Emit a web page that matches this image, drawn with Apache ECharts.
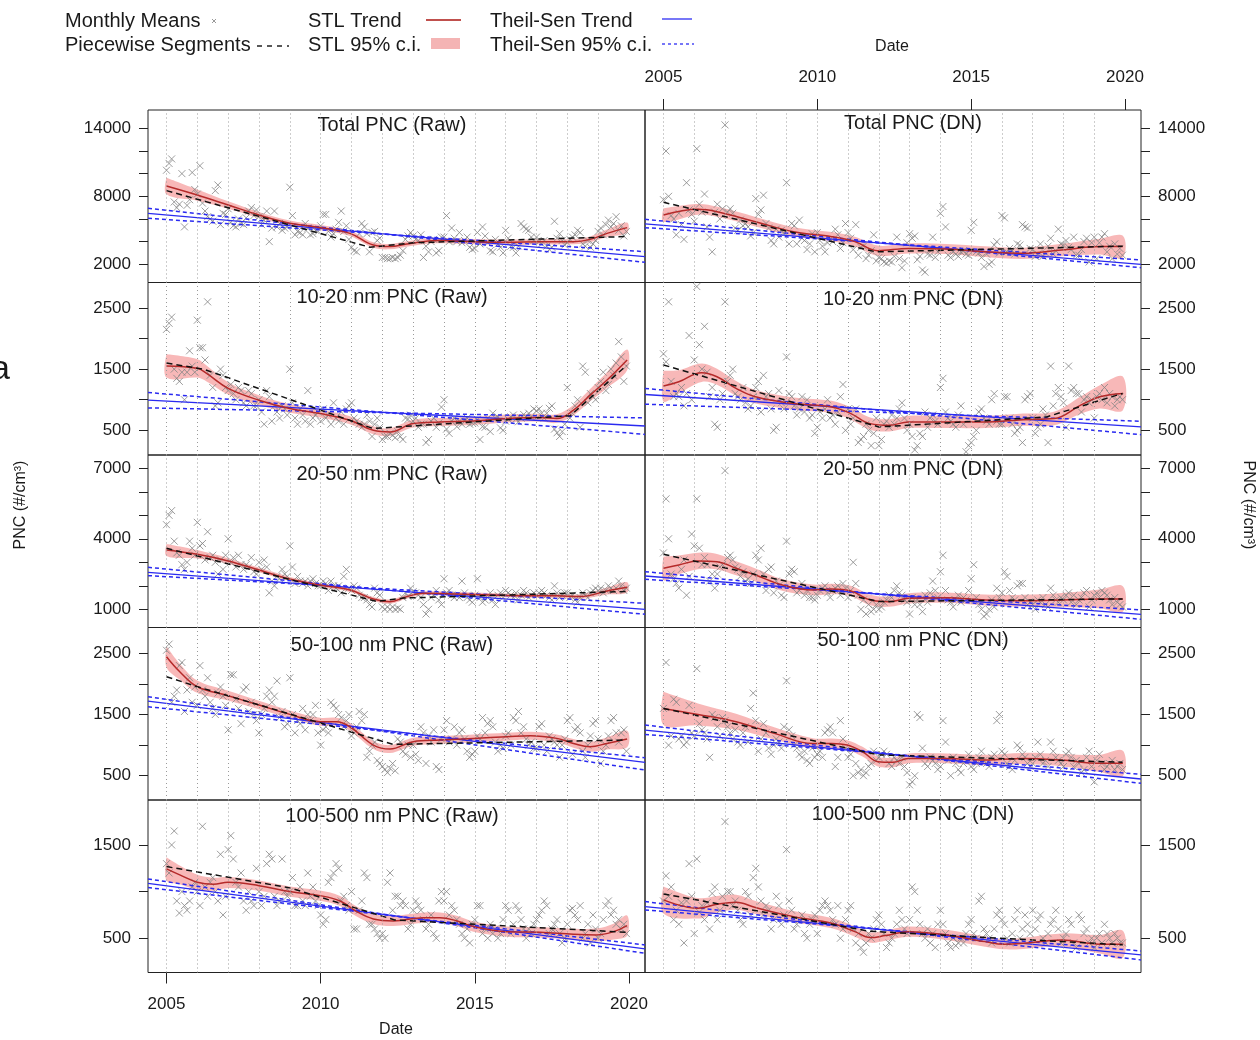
<!DOCTYPE html>
<html>
<head>
<meta charset="utf-8">
<script src="https://cdn.jsdelivr.net/npm/echarts@6/dist/echarts.min.js"></script>
<style>
html, body { margin: 0; background: #fff; }
#chart { width: 1260px; height: 1040px; }
</style>
</head>
<body>
<div id="chart"></div>
<script>
// years with a dotted guide line, date ticks, x range
var years = [2005, 2006, 2007, 2008, 2009, 2010, 2011, 2012, 2013, 2014, 2015, 2016, 2017, 2018, 2019];
var dateTicks = [2005, 2010, 2015, 2020];
var xRange = [2004.4, 2020.52];

// y scale of each row (shared by Raw and DN)
var rowRanges = [[394, 15615], [97, 2916], [226, 7566], [103, 2922], [133, 1982]];
var rowTicks = [
    [2000, 4000, 6000, 8000, 10000, 12000, 14000],
    [500, 1000, 1500, 2000, 2500],
    [1000, 2000, 3000, 4000, 5000, 6000, 7000],
    [500, 1000, 1500, 2000, 2500],
    [500, 1000, 1500]
];
var rowLabels = [[2000, 8000, 14000], [500, 1500, 2500], [1000, 4000, 7000], [500, 1500, 2500], [500, 1500]];
var titles = [
    ['Total PNC (Raw)', 'Total PNC (DN)'],
    ['10-20 nm PNC (Raw)', '10-20 nm PNC (DN)'],
    ['20-50 nm PNC (Raw)', '20-50 nm PNC (DN)'],
    ['50-100 nm PNC (Raw)', '50-100 nm PNC (DN)'],
    ['100-500 nm PNC (Raw)', '100-500 nm PNC (DN)']
];

// monthly means, Jan 2005 .. Dec 2019 (12 per line)
var monTotalRaw = [
    10300, 10900, 11300, 7500, 7000, 7300, 10000, 5300, 7200, 7700, 10100, 8600,
    8200, 10700, 7400, 6700, 6200, 6000, 5800, 8500, 9000, 5500, 6500, 6400,
    6900, 5700, 5400, 5300, 6000, 5600, 5500, 6100, 6700, 7000, 6300, 6800,
    6200, 5500, 5900, 6700, 4000, 5200, 6700, 5300, 5600, 5000, 5200, 5300,
    8800, 6300, 4600, 4900, 4800, 4600, 5600, 5200, 4600, 4700, 5000, 4900,
    5400, 6400, 6400, 4900, 4400, 4700, 5100, 5700, 6700, 4900, 5400, 4200,
    3500, 3200, 3100, 4700, 5600, 5300, 4700, 3100, 4800, 4900, 4100, 4300,
    2600, 2600, 2500, 2500, 2600, 2500, 2600, 2800, 3200, 4200, 4500, 4800,
    4500, 4200, 4100, 4600, 2600, 3600, 3100, 4000, 4200, 3000, 3200, 4400,
    4400, 6300, 4000, 5200, 4300, 4000, 4800, 3900, 4100, 4400, 3500, 3300,
    3400, 4800, 3800, 5300, 4500, 3900, 3200, 3100, 4200, 3800, 3500, 3000,
    5000, 4300, 3600, 3500, 3000, 3600, 5600, 5300, 5100, 5000, 4400, 4100,
    4400, 4000, 3800, 4100, 3600, 3300, 3500, 5800, 4300, 4700, 4100, 3700,
    3900, 4200, 4400, 4600, 5000, 4800, 3800, 3600, 4100, 3500, 3800, 4100,
    4900, 5200, 4600, 5500, 5900, 5300, 5600, 6200, 5000, 5400, 4500, 4900
];
var monTotalDN = [
    7700, 12000, 8000, 6300, 6000, 4600, 6500, 5500, 4200, 9200, 6800, 6400,
    5800, 12200, 7300, 6600, 8200, 5300, 4400, 3100, 6600, 7300, 6000, 6900,
    14300, 6600, 6900, 6500, 5200, 5000, 5900, 5400, 5600, 5300, 4500, 4800,
    7800, 6400, 6800, 8100, 5600, 5200, 4100, 3800, 5100, 4400, 5000, 4700,
    9200, 3800, 5600, 5400, 3800, 5900, 4300, 4100, 3300, 3800, 4700, 3100,
    4800, 4100, 3600, 3100, 3900, 4200, 4000, 5100, 4600, 3400, 3900, 5600,
    4800, 4300, 3300, 5500, 2800, 3500, 3600, 2500, 2800, 3200, 4600, 2300,
    2600, 2500, 2200, 2100, 2300, 2200, 2700, 4400, 2500, 1700, 2300, 3900,
    4700, 4300, 4500, 2400, 2700, 1500, 1300, 2900, 2800, 4400, 2600, 3100,
    6500, 7100, 5300, 2800, 2600, 3100, 2900, 2700, 3100, 3200, 2900, 2800,
    5000, 5700, 3100, 3000, 2600, 1800, 2900, 2000, 2200, 3700, 4000, 3000,
    6300, 6100, 3100, 3400, 3200, 2900, 3800, 3700, 5500, 5300, 5200, 3400,
    3300, 2700, 2900, 3800, 2700, 3000, 3600, 4300, 2900, 3200, 5100, 3800,
    3700, 4100, 3500, 3300, 4400, 2800, 2800, 3300, 4000, 4300, 2200, 3900,
    4400, 2500, 3900, 4400, 4700, 3100, 3600, 2500, 3800, 2900, 3400, 2800
];
var mon1020Raw = [
    2150, 2250, 2350, 1500, 1350, 1300, 1450, 1000, 1450, 1800, 1550, 1450,
    2300, 1850, 1850, 1650, 2600, 1400, 1200, 900, 950, 1500, 1400, 1200,
    1150, 1250, 1100, 1000, 1200, 1150, 950, 900, 1150, 1100, 900, 900,
    1000, 800, 600, 1150, 1050, 650, 900, 800, 700, 900, 850, 750,
    1500, 950, 700, 600, 850, 750, 650, 1150, 600, 700, 750, 800,
    650, 850, 700, 750, 600, 950, 700, 650, 800, 600, 850, 900,
    950, 700, 650, 600, 550, 600, 750, 650, 400, 600, 700, 550,
    350, 400, 400, 450, 420, 380, 480, 400, 350, 700, 680, 750,
    650, 700, 550, 600, 600, 300, 350, 650, 700, 550, 620, 880,
    1000, 520, 450, 650, 700, 560, 650, 600, 650, 700, 600, 620,
    620, 680, 350, 560, 550, 700, 480, 780, 700, 720, 540, 500,
    650, 680, 720, 750, 680, 640, 700, 760, 720, 780, 720, 850,
    820, 850, 780, 700, 780, 860, 900, 520, 460, 400, 480, 600,
    1200, 700, 780, 900, 1000, 550, 1550, 1450, 950, 1100, 1050, 1000,
    1200, 1300, 1450, 1150, 1250, 1500, 1400, 1600, 1950, 1700, 1300, 1550
];
var mon1020DN = [
    1750, 1620, 2600, 1300, 1050, 1100, 1050, 1200, 900, 1100, 2050, 1000,
    1650, 2850, 1900, 1500, 2200, 1450, 1050, 1200, 600, 550, 1000, 1100,
    2600, 1300, 1400, 1500, 1100, 1050, 1000, 1200, 950, 850, 900, 1050,
    1200, 1300, 800, 1400, 1050, 1100, 850, 500, 550, 1150, 950, 850,
    1700, 1100, 1050, 900, 750, 850, 1050, 800, 1000, 700, 750, 450,
    550, 800, 700, 850, 1000, 700, 750, 600, 800, 1050, 1250, 500,
    850, 600, 700, 850, 300, 350, 400, 600, 500, 250, 450, 700,
    250, 350, 600, 650, 550, 750, 600, 700, 850, 950, 700, 500,
    600, 400, 180, 250, 450, 400, 800, 550, 700, 750, 650, 600,
    1200, 1350, 800, 700, 650, 600, 550, 750, 900, 600, 150, 250,
    300, 400, 500, 800, 850, 700, 650, 600, 1000, 1100, 650, 600,
    600, 1050, 1050, 700, 600, 450, 500, 550, 300, 1000, 1050, 1100,
    700, 450, 550, 600, 850, 750, 300, 1550, 900, 1100, 1200, 1050,
    950, 550, 1550, 1150, 1200, 1100, 1100, 800, 1000, 1050, 950, 1000,
    700, 1050, 1100, 1000, 1200, 950, 1100, 1050, 900, 1000, 1050, 1000
];
var mon2050Raw = [
    4600, 5000, 5200, 3900, 3400, 3300, 2900, 2700, 3000, 3900, 3600, 3300,
    4700, 3700, 3800, 3100, 4300, 3200, 3300, 3000, 2500, 3100, 2700, 3300,
    4000, 3000, 3200, 2800, 3300, 2900, 2700, 2900, 2800, 3200, 2600, 2500,
    3000, 2700, 3100, 2800, 1700, 2200, 2000, 2400, 2300, 2700, 2500, 2400,
    3700, 2800, 2100, 2400, 2200, 2100, 2200, 2000, 2200, 2300, 2100, 2000,
    2000, 2200, 2100, 1800, 2200, 2000, 1900, 2000, 1700, 2400, 2700, 1900,
    1800, 2000, 1900, 1600, 1500, 1500, 1400, 1200, 1100, 1900, 1700, 1600,
    1100, 1000, 1100, 1000, 1100, 1000, 1050, 1000, 1500, 1700, 1550, 1900,
    1750, 1700, 1600, 1500, 1200, 800, 1000, 1500, 1600, 1800, 1400, 1200,
    2300, 1700, 1800, 1600, 1500, 1600, 1500, 2200, 1700, 1500, 1400, 1300,
    1600, 2300, 1500, 1300, 1400, 1500, 1700, 1400, 1200, 1600, 1700, 1500,
    1800, 1700, 1600, 1500, 1700, 1400, 1600, 1800, 1700, 1500, 1600, 1700,
    1600, 1700, 1800, 1700, 1600, 1500, 1400, 2000, 1700, 1500, 1600, 1700,
    1700, 1500, 1600, 1400, 1300, 1500, 1700, 1600, 1500, 1700, 1800, 1900,
    1800, 1900, 1700, 1800, 2000, 1900, 1800, 1900, 2200, 2000, 1800, 1900
];
var mon2050DN = [
    3400, 5700, 4000, 2500, 2300, 2100, 1900, 2700, 3100, 1600, 2400, 4200,
    3700, 5700, 3600, 2900, 3200, 2900, 2200, 2500, 1900, 2500, 2800, 2900,
    6900, 3200, 3300, 3100, 2800, 2700, 2400, 2600, 2200, 2300, 2100, 2500,
    3300, 3100, 3600, 2500, 1800, 2700, 2800, 1700, 2200, 2000, 1600, 1500,
    3900, 2500, 2700, 2600, 1700, 1800, 2100, 1600, 1800, 1500, 1500, 1400,
    1600, 1800, 1900, 2000, 1700, 1500, 1800, 1900, 2000, 1600, 2100, 1900,
    1500, 1800, 3000, 2100, 1600, 1000, 1400, 800, 1200, 900, 1000, 1200,
    1000, 1100, 1300, 1400, 1600, 1500, 1800, 2000, 1700, 1600, 1400, 1300,
    800, 1500, 1200, 1400, 1200, 900, 1600, 1300, 1700, 2200, 1800, 1500,
    2600, 3300, 1800, 1400, 1300, 1100, 1400, 1600, 1300, 1500, 1400, 1800,
    2300, 2900, 1500, 1200, 1000, 700, 800, 1000, 1400, 1100, 1900, 1500,
    1700, 2600, 2400, 1800, 1500, 1400, 2000, 2100, 2100, 1500, 1200, 1300,
    1200, 1000, 1400, 1300, 1500, 1200, 1100, 1900, 1600, 1400, 1300, 1500,
    1400, 1600, 1700, 1300, 1600, 1200, 1400, 1500, 1700, 1800, 1100, 1400,
    1600, 1700, 1500, 1800, 1700, 1600, 1400, 1200, 1500, 1300, 1200, 1100
];
var mon50100Raw = [
    2550, 2650, 1700, 1800, 1900, 2300, 2350, 1550, 1900, 2100, 1700, 1950,
    1650, 2300, 1900, 1800, 2100, 1700, 1600, 1500, 1850, 1950, 1800, 1650,
    1250, 2150, 2150, 1750, 1600, 1350, 1900, 1950, 1550, 1700, 1500, 1400,
    1200, 1500, 1600, 1800, 1900, 1700, 1800, 2050, 1450, 1550, 1300, 1350,
    2100, 1500, 1200, 1400, 1350, 1600, 1250, 1500, 1400, 1500, 1650, 1200,
    1000, 1250, 1300, 1200, 1700, 1650, 1600, 1500, 1450, 1300, 1400, 1500,
    1150, 1200, 1300, 1550, 1400, 1500, 800, 900, 1000, 1050, 750, 700,
    650, 600, 550, 620, 700, 580, 1100, 1050, 900, 850, 1000, 800,
    1000, 850, 750, 1300, 1200, 700, 1150, 1050, 1250, 650, 600, 1100,
    1250, 1400, 1050, 1100, 1300, 1000, 1200, 1250, 1100, 900, 800, 850,
    900, 1150, 1100, 1450, 1200, 1350, 1400, 1300, 1050, 900, 1000, 950,
    1150, 1200, 1000, 1450, 1400, 1550, 1200, 1300, 1100, 1000, 1050, 950,
    950, 1300, 1350, 1000, 900, 1150, 1100, 1050, 1000, 800, 1000, 1100,
    1400, 1450, 850, 1250, 1300, 1200, 900, 800, 1000, 1150, 1350, 1400,
    1100, 700, 900, 1000, 1150, 1400, 1450, 1200, 1050, 1200, 1250, 900
];
var mon50100DN = [
    1600, 2350, 1000, 1150, 1750, 1700, 1100, 1150, 1000, 1050, 1650, 1200,
    1150, 2250, 1350, 1250, 1200, 1100, 800, 1500, 1450, 1300, 1150, 1450,
    1400, 1300, 1200, 1100, 1250, 1050, 1000, 1200, 1300, 1050, 1600, 1850,
    1400, 900, 1100, 1350, 1200, 950, 850, 1000, 1100, 1050, 950, 1300,
    2050, 1250, 1150, 1000, 950, 850, 800, 900, 750, 700, 950, 800,
    850, 900, 800, 1200, 1250, 1300, 1200, 650, 800, 1400, 1100, 950,
    800, 850, 500, 700, 550, 600, 500, 550, 650, 700, 900, 750,
    800, 850, 900, 850, 700, 650, 800, 750, 700, 800, 650, 550,
    350, 400, 500, 1500, 1450, 950, 700, 650, 800, 750, 700, 600,
    650, 1400, 1050, 750, 500, 800, 700, 600, 550, 700, 750, 850,
    650, 600, 700, 800, 900, 750, 700, 650, 800, 850, 1400, 1500,
    900, 850, 700, 650, 600, 750, 1000, 950, 850, 800, 700, 650,
    700, 800, 1050, 850, 700, 750, 650, 1050, 900, 800, 750, 700,
    650, 850, 900, 800, 650, 750, 700, 550, 600, 800, 900, 650,
    400, 750, 850, 700, 600, 650, 700, 750, 600, 650, 700, 600
];
var mon100500Raw = [
    1300, 1200, 1500, 1650, 900, 770, 1000, 850, 800, 900, 1050, 1100,
    1000, 850, 1700, 1050, 950, 1100, 1150, 1000, 900, 1400, 750, 950,
    1450, 1600, 1350, 1100, 1050, 1200, 900, 800, 1000, 900, 850, 1250,
    1000, 850, 950, 1300, 1400, 1350, 950, 850, 900, 1350, 1000, 950,
    1000, 1150, 850, 850, 1050, 900, 850, 1200, 950, 1050, 900, 850,
    750, 650, 700, 1100, 1150, 1200, 1300, 1250, 900, 950, 850, 800,
    1000, 600, 600, 800, 900, 1200, 1150, 650, 650, 600, 550, 500,
    550, 500, 1100, 1200, 800, 950, 950, 850, 900, 850, 600, 650,
    800, 900, 850, 800, 700, 600, 650, 750, 550, 500, 900, 1000,
    900, 1000, 750, 850, 800, 700, 650, 550, 500, 600, 450, 650,
    700, 850, 850, 550, 600, 500, 650, 550, 600, 500, 550, 700,
    850, 800, 550, 650, 850, 800, 700, 600, 500, 600, 550, 650,
    700, 750, 800, 900, 850, 550, 600, 650, 700, 550, 450, 500,
    650, 800, 820, 750, 700, 850, 500, 550, 650, 450, 750, 600,
    500, 550, 700, 850, 900, 750, 800, 650, 700, 600, 650, 550
];
var mon100500DN = [
    900, 1170, 950, 1050, 700, 800, 650, 880, 450, 900, 1300, 950,
    550, 1350, 780, 850, 700, 880, 600, 980, 1050, 700, 800, 950,
    1750, 1000, 1000, 850, 900, 800, 700, 650, 1000, 950, 750, 1150,
    1250, 1050, 900, 750, 850, 800, 600, 700, 950, 850, 650, 750,
    1450, 900, 800, 600, 650, 700, 750, 550, 500, 650, 700, 750,
    550, 800, 850, 900, 850, 800, 700, 650, 850, 500, 600, 700,
    800, 850, 600, 450, 550, 400, 350, 450, 550, 500, 600, 700,
    750, 650, 550, 400, 450, 500, 550, 650, 800, 700, 600, 550,
    700, 1050, 1000, 800, 650, 550, 500, 600, 450, 550, 400, 650,
    800, 650, 550, 450, 400, 500, 420, 450, 500, 450, 550, 650,
    700, 550, 500, 900, 950, 600, 550, 500, 450, 600, 750, 800,
    700, 650, 500, 450, 550, 700, 800, 500, 600, 750, 650, 550,
    800, 600, 700, 750, 500, 450, 550, 650, 700, 800, 600, 450,
    500, 550, 700, 650, 450, 400, 750, 700, 550, 600, 450, 500,
    400, 500, 550, 450, 650, 550, 500, 450, 550, 500, 450, 450
];

// STL trend: [year, trend, half width of 95% c.i.]
var stlTotalRaw = [[2005.0, 8910, 735], [2006.0, 8110, 500], [2007.0, 7235, 330], [2008.0, 6350, 260], [2009.0, 5620, 240], [2010.0, 5235, 230], [2010.95, 4730, 230], [2011.71, 3700, 240], [2012.25, 3560, 240], [2012.79, 3790, 240], [2013.33, 4000, 230], [2013.87, 4090, 230], [2014.96, 4000, 230], [2016.04, 3940, 230], [2017.12, 4000, 230], [2018.2, 4000, 240], [2018.74, 4200, 260], [2019.29, 4730, 330], [2019.94, 5235, 450]];
var stlTotalDN = [[2005.0, 6350, 600], [2006.12, 6850, 480], [2006.74, 6640, 450], [2007.99, 5760, 420], [2009.23, 4880, 400], [2010.47, 4440, 400], [2011.22, 4000, 420], [2011.97, 3200, 450], [2012.96, 3400, 450], [2014.2, 3350, 450], [2015.45, 3115, 480], [2016.69, 2970, 500], [2017.94, 3260, 550], [2019.18, 3560, 700], [2019.93, 3560, 950]];
var stl1020Raw = [[2005.0, 1552, 190], [2006.0, 1513, 150], [2006.3, 1430, 130], [2007.0, 1185, 100], [2008.0, 993, 80], [2009.0, 856, 70], [2009.98, 774, 65], [2010.95, 664, 65], [2011.71, 500, 65], [2012.25, 473, 65], [2013.0, 610, 65], [2013.87, 637, 65], [2014.96, 653, 65], [2016.04, 692, 65], [2017.12, 708, 65], [2017.66, 692, 70], [2018.2, 829, 85], [2018.74, 1075, 100], [2019.29, 1322, 130], [2019.94, 1650, 170]];
var stl1020DN = [[2005.0, 1223, 250], [2005.5, 1294, 190], [2006.24, 1442, 150], [2006.74, 1376, 130], [2007.36, 1185, 120], [2007.99, 1048, 110], [2009.23, 938, 100], [2010.47, 883, 100], [2011.09, 774, 100], [2011.72, 610, 100], [2012.34, 582, 100], [2012.96, 637, 100], [2014.2, 637, 100], [2015.45, 637, 100], [2016.69, 675, 100], [2017.69, 692, 110], [2018.56, 911, 140], [2019.18, 1048, 190], [2019.93, 1103, 275]];
var stl2050Raw = [[2005.0, 3525, 255], [2006.0, 3340, 180], [2007.0, 3057, 120], [2008.0, 2674, 100], [2009.0, 2290, 90], [2009.98, 2035, 85], [2010.95, 1823, 85], [2011.71, 1440, 85], [2012.25, 1326, 90], [2012.79, 1540, 90], [2013.33, 1680, 85], [2014.42, 1652, 85], [2015.5, 1610, 85], [2016.58, 1580, 85], [2017.66, 1580, 90], [2018.42, 1540, 100], [2019.29, 1780, 150], [2019.94, 1936, 220]];
var stl2050DN = [[2005.0, 2745, 500], [2005.5, 2887, 400], [2006.12, 3057, 350], [2006.74, 3028, 330], [2007.36, 2745, 300], [2007.99, 2461, 280], [2008.86, 2035, 250], [2009.85, 1823, 230], [2010.47, 1865, 220], [2011.09, 1780, 220], [2011.72, 1397, 220], [2012.34, 1326, 220], [2012.96, 1468, 220], [2014.2, 1496, 220], [2015.45, 1397, 230], [2016.69, 1369, 250], [2017.94, 1397, 300], [2019.18, 1440, 400], [2019.93, 1440, 540]];
var stl50100Raw = [[2005.0, 2444, 170], [2005.43, 2199, 130], [2006.0, 1954, 100], [2007.0, 1807, 80], [2008.0, 1655, 70], [2009.0, 1502, 65], [2009.98, 1382, 65], [2010.52, 1382, 65], [2010.95, 1300, 65], [2011.71, 1001, 65], [2012.25, 936, 65], [2013.0, 1056, 65], [2013.87, 1083, 65], [2014.96, 1110, 65], [2016.04, 1137, 65], [2016.8, 1154, 65], [2017.66, 1110, 65], [2018.2, 1028, 70], [2018.74, 974, 80], [2019.29, 1028, 100], [2019.94, 1099, 135]];
var stl50100DN = [[2005.0, 1600, 270], [2006.12, 1502, 180], [2007.36, 1382, 130], [2008.6, 1192, 100], [2009.85, 1028, 85], [2010.47, 1028, 80], [2010.97, 1001, 80], [2011.47, 892, 80], [2011.97, 729, 80], [2012.46, 718, 80], [2012.96, 783, 80], [2014.2, 783, 80], [2015.45, 756, 85], [2016.69, 783, 90], [2017.94, 756, 100], [2019.18, 702, 140], [2019.93, 702, 205]];
var stl100500Raw = [[2005.0, 1243, 125], [2005.43, 1179, 100], [2006.0, 1100, 80], [2006.52, 1079, 70], [2007.0, 1100, 60], [2008.0, 1064, 55], [2009.0, 1000, 54], [2009.98, 957, 54], [2010.63, 900, 54], [2011.17, 786, 54], [2011.71, 707, 54], [2012.36, 686, 54], [2013.33, 721, 54], [2013.87, 721, 54], [2014.42, 686, 54], [2014.96, 625, 54], [2016.04, 571, 54], [2017.12, 564, 55], [2018.2, 543, 60], [2018.96, 536, 70], [2019.5, 571, 85], [2019.94, 636, 107]];
var stl100500DN = [[2005.0, 911, 145], [2006.12, 821, 110], [2006.74, 864, 90], [2007.36, 886, 80], [2007.99, 829, 70], [2009.23, 732, 60], [2010.47, 661, 55], [2011.22, 571, 55], [2011.72, 507, 55], [2012.21, 529, 55], [2012.96, 571, 55], [2014.2, 536, 55], [2015.45, 464, 55], [2016.07, 436, 55], [2016.69, 446, 60], [2017.94, 482, 70], [2019.18, 436, 100], [2019.93, 436, 145]];

// piecewise segments: [year, value] at breakpoints
var segTotalRaw = [[2005, 8500], [2011.6, 3500], [2013.0, 3900], [2019.92, 4450]];
var segTotalDN = [[2005, 7470], [2011.9, 3100], [2019.92, 3600]];
var seg1020Raw = [[2005, 1600], [2006.2, 1500], [2011.7, 530], [2018.1, 740], [2019.92, 1560]];
var seg1020DN = [[2005, 1568], [2012.0, 555], [2017.45, 719], [2019.92, 1103]];
var seg2050Raw = [[2005, 3600], [2011.8, 1340], [2012.7, 1480], [2019.92, 1760]];
var seg2050DN = [[2005, 3340], [2012.0, 1330], [2019.92, 1440]];
var seg50100Raw = [[2005, 2118], [2006, 1954], [2012.35, 1012], [2019.92, 1083]];
var seg50100DN = [[2005, 1600], [2012.0, 840], [2019.92, 720]];
var seg100500Raw = [[2005, 1268], [2009.0, 1040], [2012.4, 696], [2019.92, 564]];
var seg100500DN = [[2005, 975], [2011.7, 575], [2019.92, 430]];

// Theil-Sen at the x range ends: [trend L, trend R, ci1 L, ci1 R, ci2 L, ci2 R]
var tsTotalRaw = [6500, 2676, 6940, 2176, 6060, 3115];
var tsTotalDN = [5560, 2000, 5970, 1700, 5235, 2380];
var ts1020Raw = [993, 571, 1119, 434, 867, 703];
var ts1020DN = [1086, 555, 1185, 429, 927, 648];
var ts2050Raw = [2574, 1000, 2787, 787, 2433, 1255];
var ts2050DN = [2418, 787, 2603, 574, 2277, 972];
var ts50100Raw = [1720, 718, 1791, 593, 1627, 794];
var ts50100DN = [1246, 446, 1328, 375, 1175, 522];
var ts100500Raw = [1089, 386, 1136, 339, 1043, 429];
var ts100500DN = [839, 321, 893, 268, 804, 364];

var panels = [
    [monTotalRaw, stlTotalRaw, segTotalRaw, tsTotalRaw], [monTotalDN, stlTotalDN, segTotalDN, tsTotalDN],
    [mon1020Raw, stl1020Raw, seg1020Raw, ts1020Raw], [mon1020DN, stl1020DN, seg1020DN, ts1020DN],
    [mon2050Raw, stl2050Raw, seg2050Raw, ts2050Raw], [mon2050DN, stl2050DN, seg2050DN, ts2050DN],
    [mon50100Raw, stl50100Raw, seg50100Raw, ts50100Raw], [mon50100DN, stl50100DN, seg50100DN, ts50100DN],
    [mon100500Raw, stl100500Raw, seg100500Raw, ts100500Raw], [mon100500DN, stl100500DN, seg100500DN, ts100500DN]
];

var FONT = '"Liberation Sans", Arial, sans-serif';
var INK = '#1a1a1a';
var RED = '#b52a2a';
var BAND = 'rgba(244, 140, 140, 0.62)';
var BLUE = '#2a2af0';

var chart = echarts.init(document.getElementById('chart'));

var rowTop = [110, 282.5, 455, 627.5, 800];
var rowH = 172.5;
var colLeft = [148, 645];
var colW = [497, 496];
var titleX = [392, 913];
var titleY = [[125, 123], [297, 299], [474, 469], [645, 640], [816, 814]];

var grids = [], xAxes = [], yAxes = [], series = [], graphics = [];

// the c.i. band as one smoothed polygon, placed via the axes
function bandRenderer(stl) {
    return function (params, api) {
        var up = stl.map(function (d) { return api.coord([d[0], d[1] + d[2]]); });
        var lo = stl.map(function (d) { return api.coord([d[0], d[1] - d[2]]); }).reverse();
        return {
            type: 'group',
            children: [
                { type: 'polyline', shape: { points: up.concat(lo).concat([up[0]]), smooth: 0.35 },
                  style: { fill: BAND, stroke: null } }
            ]
        };
    };
}

panels.forEach(function (p, gi) {
    var r = Math.floor(gi / 2), c = gi % 2;
    grids.push({
        left: colLeft[c], top: rowTop[r], width: colW[c], height: rowH,
        show: true, borderColor: '#222', borderWidth: 1, containLabel: false
    });
    var xShow = (r === 0 && c === 1) || (r === 4 && c === 0);
    xAxes.push({
        type: 'value', gridIndex: gi, min: xRange[0], max: xRange[1],
        position: r === 0 ? 'top' : 'bottom',
        show: xShow,
        axisLine: { show: false },
        splitLine: { show: false },
        axisTick: { show: true, length: 11, customValues: dateTicks, lineStyle: { color: '#222' } },
        axisLabel: {
            customValues: dateTicks, margin: r === 0 ? 24 : 23,
            fontSize: 17, fontFamily: FONT, color: INK,
            formatter: function (v) { return String(v); }
        }
    });
    yAxes.push({
        type: 'value', gridIndex: gi, min: rowRanges[r][0], max: rowRanges[r][1],
        position: c === 0 ? 'left' : 'right',
        axisLine: { show: false },
        splitLine: { show: false },
        axisTick: { show: true, length: 9, customValues: rowTicks[r], lineStyle: { color: '#222' } },
        axisLabel: {
            customValues: rowLabels[r], margin: 17,
            fontSize: 17, fontFamily: FONT, color: INK,
            formatter: function (v) { return String(v); }
        }
    });

    var mon = p[0], stl = p[1], seg = p[2], ts = p[3];
    series.push({
        type: 'scatter', xAxisIndex: gi, yAxisIndex: gi, silent: true,
        data: mon.map(function (v, i) { return [2005 + i / 12, v]; }),
        symbol: 'path://M0,0L10,10M10,0L0,10', symbolSize: 7,
        itemStyle: { color: 'rgba(0,0,0,0)', borderColor: '#848484', borderWidth: 1 },
        markLine: {
            silent: true, symbol: ['none', 'none'], label: { show: false },
            lineStyle: { type: [1, 3], color: '#9a9a9a', width: 1 },
            data: years.map(function (y) { return { xAxis: y }; })
        }
    });
    series.push({
        type: 'custom', xAxisIndex: gi, yAxisIndex: gi, silent: true, clip: true,
        data: [[stl[0][0], stl[0][1]]],
        renderItem: bandRenderer(stl)
    });
    series.push({
        type: 'line', xAxisIndex: gi, yAxisIndex: gi, silent: true,
        symbol: 'none', lineStyle: { color: BLUE, width: 1.3 },
        data: [[xRange[0], ts[0]], [xRange[1], ts[1]]]
    });
    series.push({
        type: 'line', xAxisIndex: gi, yAxisIndex: gi, silent: true,
        symbol: 'none', lineStyle: { color: BLUE, width: 1.5, type: [4, 3] },
        data: [[xRange[0], ts[2]], [xRange[1], ts[3]]]
    });
    series.push({
        type: 'line', xAxisIndex: gi, yAxisIndex: gi, silent: true,
        symbol: 'none', lineStyle: { color: BLUE, width: 1.5, type: [4, 3] },
        data: [[xRange[0], ts[4]], [xRange[1], ts[5]]]
    });
    series.push({
        type: 'line', xAxisIndex: gi, yAxisIndex: gi, silent: true,
        smooth: 0.4, symbol: 'none', lineStyle: { color: RED, width: 1.5 },
        data: stl.map(function (d) { return [d[0], d[1]]; })
    });
    series.push({
        type: 'line', xAxisIndex: gi, yAxisIndex: gi, silent: true,
        symbol: 'none', lineStyle: { color: '#111', width: 1.5, type: [6, 4] },
        data: seg
    });

    graphics.push({
        type: 'text', x: titleX[c], y: titleY[r][c], silent: true,
        style: { text: titles[r][c], fontSize: 20, fontFamily: FONT, fill: INK,
                 align: 'center', verticalAlign: 'middle', textAlign: 'center', textVerticalAlign: 'middle' }
    });
});

function label(text, x, y, size, rot, align) {
    return {
        type: 'text', x: x, y: y, rotation: rot || 0, silent: true,
        style: { text: text, fontSize: size, fontFamily: FONT, fill: INK,
                 align: align || 'left', verticalAlign: 'middle',
                 textAlign: align || 'left', textVerticalAlign: 'middle' }
    };
}

// legend
graphics.push(label('Monthly Means', 65, 21, 20));
graphics.push(label('Piecewise Segments', 65, 45, 20));
graphics.push(label('STL Trend', 308, 21, 20));
graphics.push(label('STL 95% c.i.', 308, 45, 20));
graphics.push(label('Theil-Sen Trend', 490, 21, 20));
graphics.push(label('Theil-Sen 95% c.i.', 490, 45, 20));
graphics.push({ type: 'polyline', silent: true, shape: { points: [[212, 19], [216, 23]] }, style: { stroke: '#999', lineWidth: 1 } });
graphics.push({ type: 'polyline', silent: true, shape: { points: [[216, 19], [212, 23]] }, style: { stroke: '#999', lineWidth: 1 } });
graphics.push({ type: 'line', silent: true, shape: { x1: 257, y1: 46, x2: 289, y2: 46 }, style: { stroke: '#222', lineWidth: 1.3, lineDash: [5, 5] } });
graphics.push({ type: 'line', silent: true, shape: { x1: 426, y1: 20, x2: 461, y2: 20 }, style: { stroke: '#c0504d', lineWidth: 2 } });
graphics.push({ type: 'rect', silent: true, shape: { x: 431, y: 38, width: 29, height: 11 }, style: { fill: '#f4b4b4' } });
graphics.push({ type: 'line', silent: true, shape: { x1: 662, y1: 19, x2: 692, y2: 19 }, style: { stroke: '#4a4af5', lineWidth: 1.5 } });
graphics.push({ type: 'line', silent: true, shape: { x1: 662, y1: 44, x2: 694, y2: 44 }, style: { stroke: '#4a4af5', lineWidth: 1.5, lineDash: [3, 3] } });

// axis titles
graphics.push(label('Date', 892, 47, 16, 0, 'center'));
graphics.push(label('Date', 396, 1030, 16, 0, 'center'));
graphics.push(label('PNC (#/cm\u00b3)', 21, 505, 16, Math.PI / 2, 'center'));
graphics.push(label('PNC (#/cm\u00b3)', 1248, 505, 16, -Math.PI / 2, 'center'));
graphics.push(label('a', -9, 370, 34, 0, 'left'));

chart.setOption({
    backgroundColor: '#fff',
    animation: false,
    grid: grids,
    xAxis: xAxes,
    yAxis: yAxes,
    series: series,
    graphic: graphics
});

window.onresize = function () { chart.resize(); };
</script>
</body>
</html>
